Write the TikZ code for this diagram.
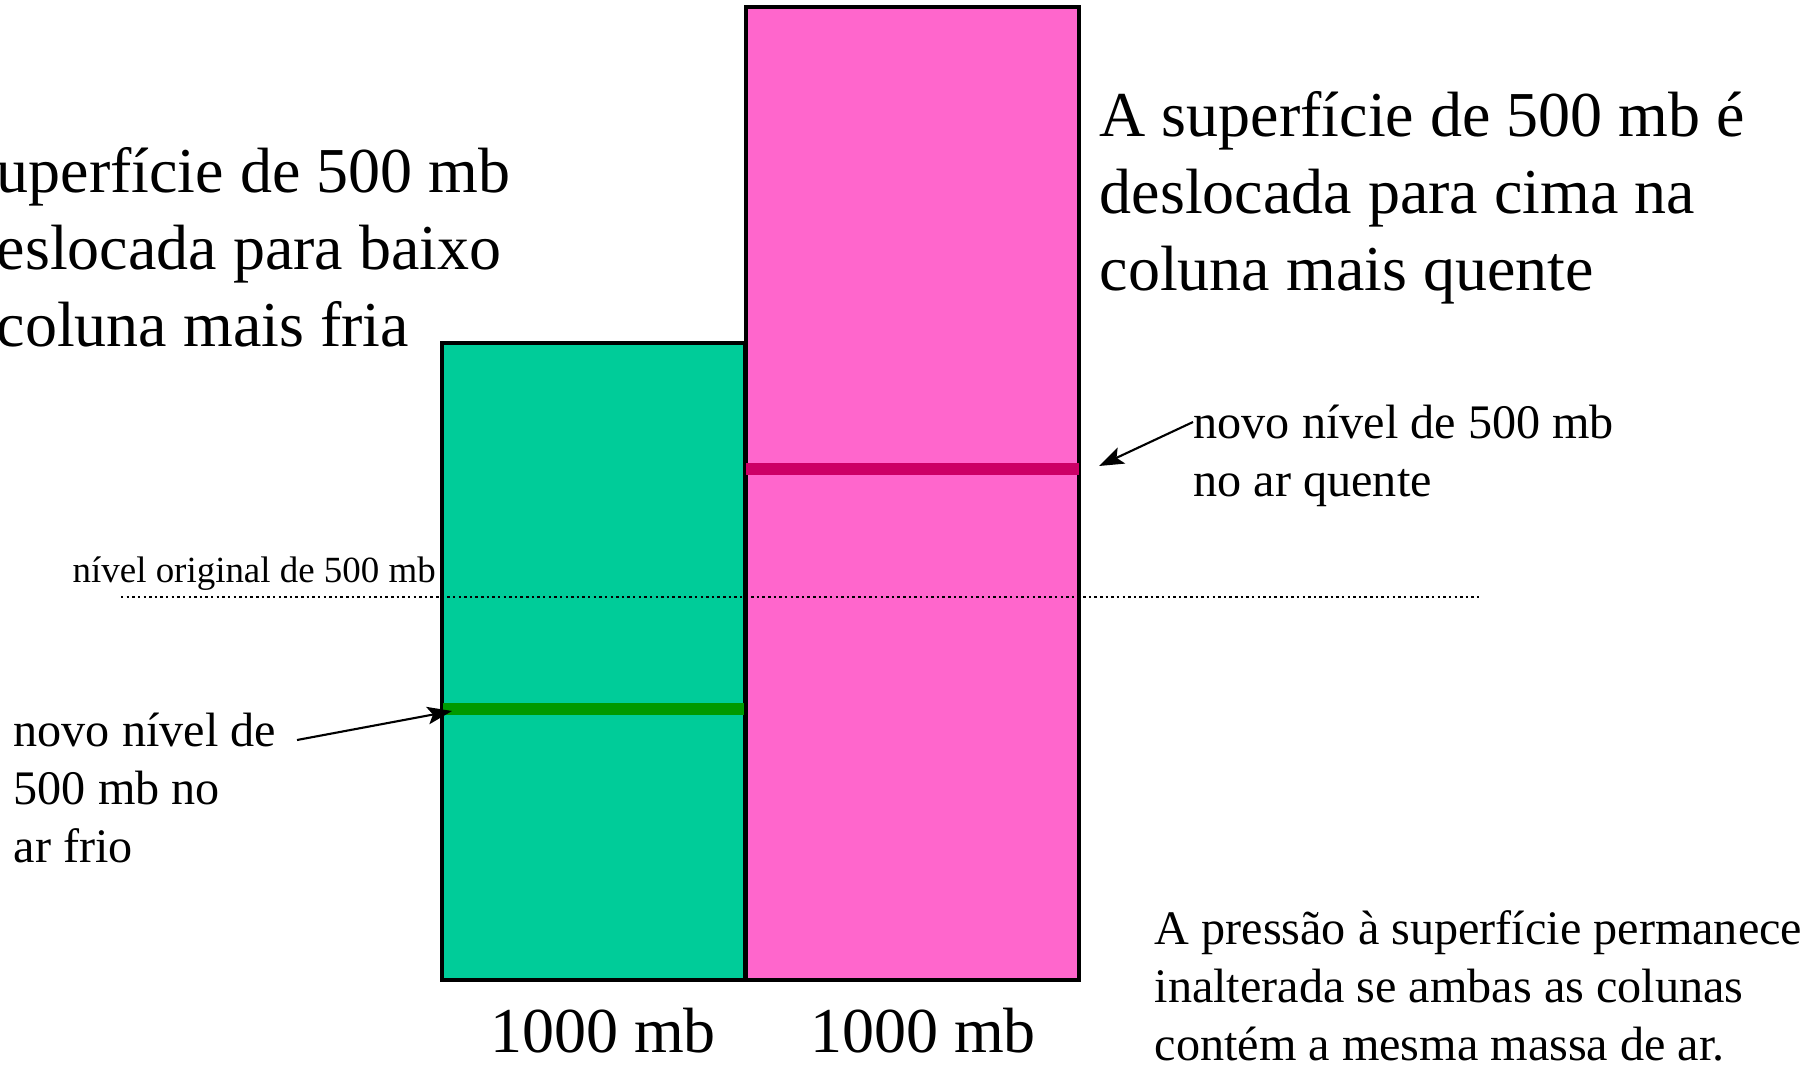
\documentclass[tikz,border=0pt]{standalone}
\usepackage{fontspec}
\setmainfont{Liberation Serif}
\usetikzlibrary{arrows.meta}
\definecolor{coldcol}{RGB}{0,204,153}
\definecolor{warmcol}{RGB}{255,102,204}
\definecolor{warmline}{RGB}{204,0,102}
\definecolor{coldline}{RGB}{0,153,0}

\begin{document}
\begin{tikzpicture}[x=0.01cm, y=-0.01cm,
    bigtxt/.style={font=\fontsize{18.2}{21.9}\selectfont, inner sep=0pt, align=left, anchor=west},
    midtxt/.style={font=\fontsize{13.7}{16.5}\selectfont, inner sep=0pt, align=left, anchor=west},
    smalltxt/.style={font=\fontsize{10.5}{12.6}\selectfont, inner sep=0pt, anchor=west},
    basetxt/.style={font=\fontsize{18.2}{21.9}\selectfont, inner sep=0pt, anchor=base},
    column/.style={draw=black, line width=0.9pt},
    level/.style={line width=3.2pt},
    pointer/.style={semithick, -{Stealth[length=7pt, width=5pt, inset=1.5pt]}}]
      \useasboundingbox (0,0) rectangle (1804,1070);
      % the two columns
      \draw[column, fill=warmcol] (746,7) rectangle (1079,980);
      \draw[column, fill=coldcol] (442,343) rectangle (745,980);
      % new 500 mb levels
      \coordinate (warmL) at (746,469);
      \coordinate (warmR) at (1079,469);
      \coordinate (coldL) at (443,709);
      \coordinate (coldR) at (744,709);
      \draw[level, warmline] (warmL) to (warmR);
      \draw[level, coldline] (coldL) to (coldR);
      % original level
      \coordinate (origL) at (121,597);
      \coordinate (origR) at (1481,597);
      \draw[line width=0.8pt, dash pattern=on 0.7pt off 0.9pt] (origL) to (origR);
      % texts
      \node (coldhead) at (-4,247) [bigtxt] {uperfície de 500 mb\\eslocada para baixo\\coluna mais fria};
      \node (warmhead) at (1099,198) [bigtxt] {A superfície de 500 mb é\\deslocada para cima na\\coluna mais quente};
      \node (warmnote) at (1193,456) [midtxt] {novo nível de 500 mb\\no ar quente};
      \node (coldnote) at (13,788) [midtxt] {novo nível de\\500 mb no\\ar frio};
      \node (orignote) at (72,574) [smalltxt] {nível original de 500 mb};
      \node (sfcnote) at (1154,986) [midtxt] {A pressão à superfície permanece\\inalterada se ambas as colunas\\contém a mesma massa de ar.};
      \node (coldsfc) at (603,1052) [basetxt] {1000 mb};
      \node (warmsfc) at (923,1052) [basetxt] {1000 mb};
      % arrows
      \coordinate (warmtail) at (1193,422);
      \coordinate (warmtip) at (1099,466);
      \coordinate (coldtail) at (297,740);
      \coordinate (coldtip) at (452,711);
      \draw[pointer] (warmtail) to (warmtip);
      \draw[pointer] (coldtail) to (coldtip);
\end{tikzpicture}
\end{document}
